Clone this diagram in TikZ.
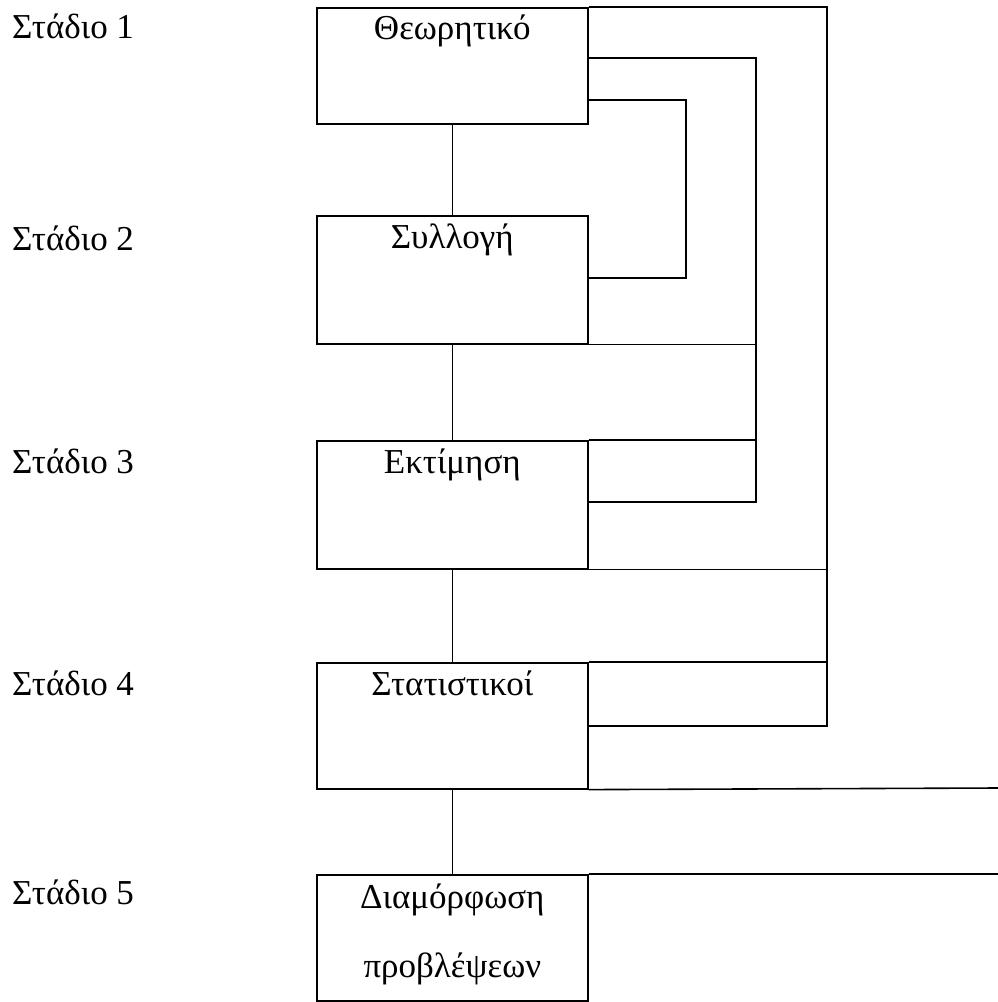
\documentclass[tikz,border=0pt]{standalone}
\usepackage{fontspec}
\setmainfont{Liberation Serif}
\begin{document}
\begin{tikzpicture}[x=1pt,y=-1pt,
  box/.style={draw,line width=1.6pt,minimum width=271pt,inner sep=0pt,anchor=north west},
  conn/.style={line width=1.6pt},
  txt/.style={font=\fontsize{35}{40}\selectfont,anchor=base,inner sep=0pt},
  stage/.style={font=\fontsize{35}{40}\selectfont,anchor=base west,inner sep=0pt}]
\useasboundingbox (0,0) rectangle (998,1002);
% boxes
\node[box,minimum height=116pt] (b1) at (316,7) {};
\node[box,minimum height=128pt] (b2) at (316,215) {};
\node[box,minimum height=128pt] (b3) at (316,440) {};
\node[box,minimum height=126pt] (b4) at (316,662) {};
\node[box,minimum height=126pt] (b5) at (316,874) {};
% box texts
\node[txt] (t1) at ([yshift=-32pt]b1.north) {Θεωρητικό};
\node[txt] (t2) at ([yshift=-33pt]b2.north) {Συλλογή};
\node[txt] (t3) at ([yshift=-33pt]b3.north) {Εκτίμηση};
\node[txt] (t4) at ([yshift=-33pt]b4.north) {Στατιστικοί};
\node[txt] (t5a) at ([yshift=-34pt]b5.north) {Διαμόρφωση};
\node[txt] (t5b) at ([yshift=-103pt]b5.north) {προβλέψεων};
% stage labels
\node[stage] (s1) at (12,38) {Στάδιο 1};
\node[stage] (s2) at (12,250) {Στάδιο 2};
\node[stage] (s3) at (12,473) {Στάδιο 3};
\node[stage] (s4) at (12,695) {Στάδιο 4};
\node[stage] (s5) at (12,904) {Στάδιο 5};
% vertical chain
\draw[conn] (b1.south) -- (b2.north);
\draw[conn] (b2.south) -- (b3.north);
\draw[conn] (b3.south) -- (b4.north);
\draw[conn] (b4.south) -- (b5.north);
% feedback coordinates
\coordinate (o1) at (827,7);
\coordinate (o2) at (827,726);
\coordinate (m1) at (756,58);
\coordinate (m2) at (756,502);
\coordinate (i1) at (686,100);
\coordinate (i2) at (686,278);
\coordinate (e1) at (998,788);
\coordinate (e2) at (998,874);
% outer loop
\draw[conn] (b1.north east) -- (o1) -- (o2) -- (o2 -| b4.east);
\draw[conn] (b3.south east) -- (b3.south east -| o1);
\draw[conn] (b4.north east) -- (b4.north east -| o1);
% middle loop
\draw[conn] (m1 -| b1.east) -- (m1) -- (m2) -- (m2 -| b3.east);
\draw[conn] (b2.south east) -- (b2.south east -| m1);
\draw[conn] (b3.north east) -- (b3.north east -| m1);
% inner loop
\draw[conn] (i1 -| b1.east) -- (i1) -- (i2) -- (i2 -| b2.east);
% lines to the right edge
\draw[conn] (b4.south east) -- (e1);
\draw[conn] (b5.north east) -- (e2);
\end{tikzpicture}
\end{document}
